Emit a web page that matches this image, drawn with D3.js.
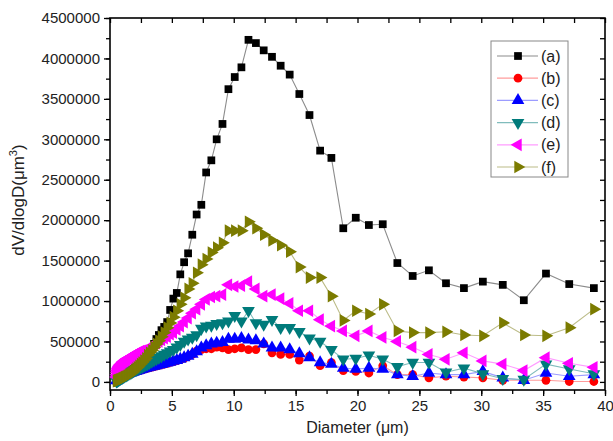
<!DOCTYPE html>
<html lang="en">
<head>
<meta charset="utf-8">
<title>dV/dlogD</title>
<script src="https://d3js.org/d3.v7.min.js"></script>
<style>
    body{margin:0;background:#fff;}
    text{font-family:"Liberation Sans",Arial,sans-serif;fill:#222;}
</style>
</head>
<body>
<svg width="613" height="441"></svg>
<script>
    // diameter bins (µm)
    var diameters = [0.52,0.55,0.58,0.61,0.64,0.67,0.71,0.75,0.79,0.83,
        0.87,0.92,0.97,1.02,1.07,1.13,1.19,1.25,1.32,1.39,
        1.47,1.54,1.63,1.71,1.81,1.90,2.00,2.11,2.22,2.34,
        2.47,2.60,2.74,2.89,3.04,3.20,3.38,3.56,3.75,3.95,
        4.16,4.38,4.62,4.86,5.12,5.40,5.68,5.99,6.31,6.65,
        7.00,7.38,7.77,8.19,8.62,9.09,9.57,10.08,10.62,11.19,
        11.79,12.42,13.09,13.79,14.52,15.30,16.12,16.98,17.89,18.85,
        19.86,20.92,22.04,23.22,24.46,25.77,27.15,28.60,30.13,31.74,
        33.44,35.23,37.11,39.10];

    var seriesA = [15000,18000,21000,24000,27000,30000,35000,40000,45000,50000,
        55000,60000,65000,70000,75000,80000,85000,90000,97000,104000,
        112000,120000,130000,140000,150000,160000,170000,182000,195000,210000,
        225000,242000,260000,280000,300000,360000,410000,470000,530000,580000,
        640000,680000,740000,890000,1030000,1100000,1330000,1480000,1590000,1820000,
        2070000,2190000,2590000,2740000,3000000,3190000,3620000,3770000,3890000,4230000,
        4190000,4100000,4020000,3910000,3800000,3560000,3300000,2860000,2770000,1900000,
        2030000,1940000,1950000,1470000,1310000,1380000,1220000,1160000,1240000,1200000,
        1010000,1340000,1210000,1160000];

    var seriesB = [12000,17000,22000,27000,32000,37000,42000,47000,52000,56000,
        60000,64000,68000,72000,76000,80000,84000,88000,92000,95000,
        99000,103000,107000,111000,115000,120000,125000,130000,135000,140000,
        146000,152000,158000,164000,170000,176000,183000,190000,197000,204000,
        212000,220000,230000,240000,250000,262000,276000,294000,314000,340000,
        380000,400000,410000,410000,430000,420000,400000,410000,420000,400000,
        400000,470000,360000,340000,340000,270000,320000,200000,240000,140000,
        130000,110000,200000,90000,90000,50000,70000,60000,50000,20000,
        20000,20000,5000,5000];

    var seriesC = [15000,20000,25000,30000,35000,40000,45000,50000,55000,60000,
        64000,68000,72000,76000,80000,84000,88000,92000,96000,100000,
        104000,108000,112000,116000,120000,125000,130000,135000,140000,146000,
        152000,158000,164000,170000,176000,182000,189000,196000,203000,210000,
        218000,226000,236000,246000,257000,268000,282000,300000,320000,345000,
        375000,420000,450000,470000,480000,490000,530000,530000,540000,520000,
        510000,470000,420000,420000,400000,350000,300000,240000,220000,170000,
        160000,170000,160000,90000,70000,110000,90000,90000,130000,50000,
        20000,110000,70000,90000];

    var seriesD = [10000,13000,16000,19000,22000,25000,29000,33000,37000,41000,
        45000,49000,54000,59000,64000,69000,74000,79000,85000,91000,
        98000,104000,112000,119000,128000,137000,145000,153000,161000,170000,
        180000,190000,200000,212000,224000,238000,252000,268000,285000,300000,
        320000,340000,360000,380000,400000,430000,460000,500000,530000,550000,
        580000,660000,690000,700000,720000,730000,750000,820000,750000,880000,
        730000,710000,770000,670000,670000,620000,540000,500000,400000,280000,
        290000,330000,280000,190000,240000,240000,120000,170000,100000,40000,
        30000,220000,160000,100000];

    var seriesE = [60000,90000,120000,140000,160000,170000,180000,190000,200000,210000,
        215000,220000,230000,240000,250000,255000,260000,270000,280000,285000,
        290000,295000,300000,310000,320000,330000,340000,350000,360000,370000,
        380000,385000,390000,400000,410000,420000,440000,460000,480000,500000,
        520000,540000,560000,590000,610000,650000,690000,740000,790000,850000,
        900000,960000,1020000,1050000,1060000,1080000,1200000,1180000,1190000,1240000,
        1150000,1060000,1080000,1030000,970000,880000,880000,770000,690000,630000,
        570000,630000,550000,500000,430000,340000,280000,360000,260000,220000,
        140000,300000,230000,180000];

    var seriesF = [10000,12000,14000,16000,18000,20000,22000,25000,28000,30000,
        33000,36000,40000,44000,48000,53000,58000,63000,68000,75000,
        82000,90000,100000,110000,120000,135000,150000,165000,180000,200000,
        220000,240000,265000,290000,330000,360000,390000,430000,470000,510000,
        560000,610000,670000,730000,800000,880000,960000,1040000,1150000,1220000,
        1350000,1450000,1520000,1600000,1660000,1720000,1870000,1870000,1870000,1980000,
        1900000,1820000,1750000,1690000,1610000,1420000,1290000,1290000,1060000,760000,
        880000,840000,960000,630000,610000,610000,620000,580000,570000,730000,
        580000,570000,670000,900000];

    var seriesNames = ["(a)","(b)","(c)","(d)","(e)","(f)"];
    var xTicks = [0,5,10,15,20,25,30,35,40];
    var yTicks = [0,500000,1000000,1500000,2000000,2500000,3000000,3500000,4000000,4500000];

    var allSeries = [seriesA,seriesB,seriesC,seriesD,seriesE,seriesF];
    var markColors = ["#000000","#ff0000","#0000ff","#007b7b","#ff00ff","#7b7b00"];
    var lineColors = ["#8c8c8c","#ff9c9c","#9c9cff","#80bcbc","#ff9cff","#bcbc88"];
    var shapes = [d3.symbolSquare,d3.symbolCircle,d3.symbolTriangle,d3.symbolTriangle,d3.symbolTriangle,d3.symbolTriangle];
    var sizes = [60,60,70,70,70,70];
    var rotations = [0,0,0,180,-90,90];

    var svg = d3.select("svg");
    var pLeft = 110, pRight = 605, pTop = 18, pBottom = 390;

    var x = d3.scaleLinear().domain([0,40]).range([pLeft,pRight]);
    var y = d3.scaleLinear().domain([-100000,4500000]).range([pBottom,pTop]);

    var xMinor = d3.range(0,40.1,2.5);
    var yMinor = d3.range(0,4500001,250000);

    // bottom axis (outward ticks)
    svg.append("g").attr("transform","translate(0,"+pBottom+")")
        .call(d3.axisBottom(x).tickValues(xMinor).tickSize(4).tickFormat(""))
        .call(function(g){g.select(".domain").remove();});
    svg.append("g").attr("transform","translate(0,"+pBottom+")")
        .call(d3.axisBottom(x).tickValues(xTicks).tickSize(6).tickPadding(4).tickFormat(d3.format("d")))
        .call(function(g){g.select(".domain").remove();g.selectAll("text").style("font-size","15px");});

    // left axis
    svg.append("g").attr("transform","translate("+pLeft+",0)")
        .call(d3.axisLeft(y).tickValues(yMinor).tickSize(4).tickFormat(""))
        .call(function(g){g.select(".domain").remove();});
    svg.append("g").attr("transform","translate("+pLeft+",0)")
        .call(d3.axisLeft(y).tickValues(yTicks).tickSize(6).tickPadding(4).tickFormat(d3.format("d")))
        .call(function(g){g.select(".domain").remove();g.selectAll("text").style("font-size","15px");});

    // top and right mirror ticks (inward)
    svg.append("g").attr("transform","translate(0,"+pTop+")")
        .call(d3.axisBottom(x).tickValues(xMinor).tickSize(5).tickFormat(""))
        .call(function(g){g.select(".domain").remove();});
    svg.append("g").attr("transform","translate("+pRight+",0)")
        .call(d3.axisLeft(y).tickValues(yMinor).tickSize(5).tickFormat(""))
        .call(function(g){g.select(".domain").remove();});

    svg.selectAll(".tick line").attr("stroke","#000").attr("stroke-width",1.3);

    // frame
    svg.append("rect").attr("x",pLeft).attr("y",pTop)
        .attr("width",pRight-pLeft).attr("height",pBottom-pTop)
        .attr("fill","none").attr("stroke","#000").attr("stroke-width",1.6);

    var plot = svg.append("g");
    var line = d3.line().x(function(d){return x(d[0]);}).y(function(d){return y(d[1]);});

    allSeries.forEach(function(vals,k){
        var pts = diameters.map(function(d,i){return [d,vals[i]];});
        var g = plot.append("g");
        g.append("path").datum(pts).attr("d",line)
            .attr("fill","none").attr("stroke",lineColors[k]).attr("stroke-width",1.1);
        g.selectAll("path.m").data(pts).enter().append("path")
            .attr("class","m")
            .attr("d",d3.symbol().type(shapes[k]).size(sizes[k]))
            .attr("transform",function(d){return "translate("+x(d[0])+","+y(d[1])+") rotate("+rotations[k]+")";})
            .attr("fill",markColors[k]);
    });

    // legend
    var lg = svg.append("g");
    lg.append("rect").attr("x",491).attr("y",41).attr("width",77).attr("height",136)
        .attr("fill","#fff").attr("stroke","#888").attr("stroke-width",1);
    seriesNames.forEach(function(n,k){
        var ly = 56 + k*22.2;
        lg.append("line").attr("x1",497).attr("x2",538).attr("y1",ly).attr("y2",ly)
            .attr("stroke",lineColors[k]).attr("stroke-width",1.2);
        lg.append("path").attr("d",d3.symbol().type(shapes[k]).size(sizes[k]))
            .attr("transform","translate(518,"+ly+") rotate("+rotations[k]+")")
            .attr("fill",markColors[k]);
        lg.append("text").attr("x",541).attr("y",ly+5.5).style("font-size","16px").text(n);
    });

    // axis titles
    svg.append("text").attr("x",(pLeft+pRight)/2).attr("y",433)
        .attr("text-anchor","middle").style("font-size","16px").text("Diameter (μm)");
    var yt = svg.append("text").attr("transform","translate(24,200) rotate(-90)")
        .attr("text-anchor","middle").style("font-size","17px");
    yt.append("tspan").text("dV/dlogD(μm");
    yt.append("tspan").attr("dy",-7).style("font-size","11px").text("3");
    yt.append("tspan").attr("dy",7).text(")");
</script>
</body>
</html>
